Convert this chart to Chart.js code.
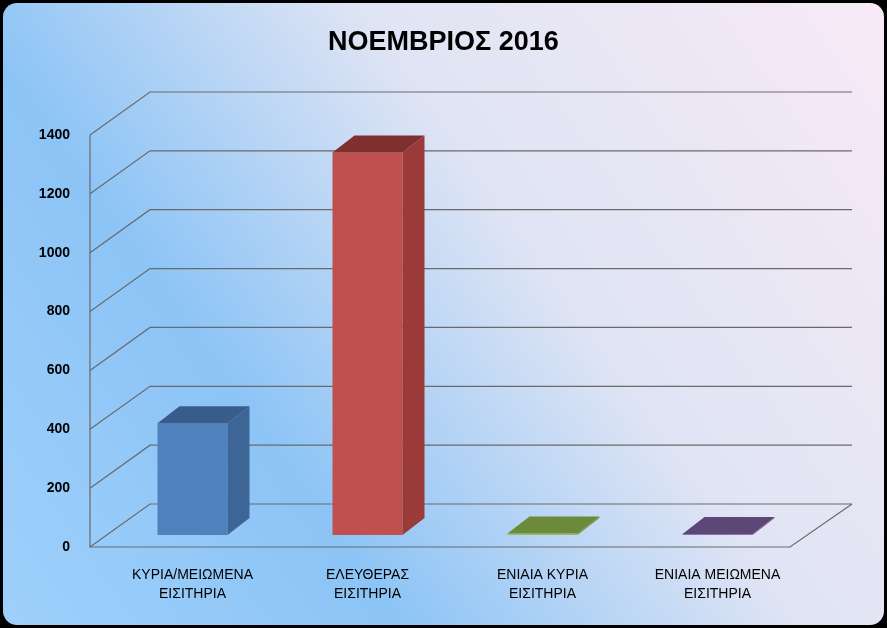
<!DOCTYPE html>
<html><head><meta charset="utf-8">
<script src="https://cdn.jsdelivr.net/npm/chart.js@4"></script>
<style>html,body{margin:0;background:#000;}#w{width:887px;height:628px;}</style>
</head><body><div id="w"><canvas id="c"></canvas></div>
<script>
const categories=[["ΚΥΡΙΑ/ΜΕΙΩΜΕΝΑ","ΕΙΣΙΤΗΡΙΑ"],["ΕΛΕΥΘΕΡΑΣ","ΕΙΣΙΤΗΡΙΑ"],["ΕΝΙΑΙΑ ΚΥΡΙΑ","ΕΙΣΙΤΗΡΙΑ"],["ΕΝΙΑΙΑ ΜΕΙΩΜΕΝΑ","ΕΙΣΙΤΗΡΙΑ"]];
const values=[380,1300,5,3];
const yTicks=[0,200,400,600,800,1000,1200,1400];
const titleText="ΝΟΕΜΒΡΙΟΣ 2016";
const colors=[["#4f81bd","#3d6596","#385d8a"],["#c0504d","#9b3b39","#7f302e"],["#9bbb59","#7d9a45","#6b8a3a"],["#8064a2","#654e82","#5c4776"]];
const DX=60,DY=-43,BX=22,BY=-17,LIFT=-12;
const p={id:'p3d',
beforeDraw(ch){const c=ch.ctx,W=ch.width,H=ch.height;c.save();
 c.fillStyle='#000';c.fillRect(0,0,W,H);
 const g=c.createLinearGradient(0,H,W,0);g.addColorStop(0,'#9fd0fb');g.addColorStop(0.3,'#8cc4f6');g.addColorStop(0.6,'#dfe4f4');g.addColorStop(1,'#f8eaf6');
 c.beginPath();c.roundRect(3,3,W-6,H-6,14);c.fillStyle=g;c.fill();
 const a=ch.chartArea,y=ch.scales.y,L=a.left-15,R=a.right-15;
 c.strokeStyle='#6a6a6a';c.lineWidth=1.2;
 yTicks.forEach(t=>{const yy=y.getPixelForValue(t);c.beginPath();c.moveTo(L,yy);c.lineTo(L+DX,yy+DY);c.lineTo(R+DX+2,yy+DY);c.stroke();});
 c.beginPath();c.moveTo(L,y.getPixelForValue(1400));c.lineTo(L,y.getPixelForValue(0));c.lineTo(R,y.getPixelForValue(0));c.lineTo(R+DX+2,y.getPixelForValue(0)+DY);c.stroke();
 c.fillStyle='#000';c.font='bold 14px "Liberation Sans",Arial';c.textAlign='right';c.textBaseline='middle';
 yTicks.forEach(t=>c.fillText(String(t),L-20,y.getPixelForValue(t)));
 c.font='bold 27px "Liberation Sans",Arial';c.textAlign='center';c.fillText(titleText,W/2,43);
 c.font='14px "Liberation Sans",Arial';c.textBaseline='top';
 const x=ch.scales.x;categories.forEach((l,i)=>{const xx=x.getPixelForValue(i);l.forEach((s,j)=>c.fillText(s,xx,568+j*19));});
 c.restore();},
afterDatasetsDraw(ch){const c=ch.ctx;c.save();
 ch.getDatasetMeta(0).data.forEach((b,i)=>{const h=b.width/2,x0=b.x-h,x1=b.x+h,yt=b.y+LIFT,yb=b.base+LIFT,[f,s,t]=colors[i];
  c.fillStyle=f;c.fillRect(x0,yt,x1-x0,yb-yt);
  c.fillStyle=s;c.beginPath();c.moveTo(x1,yt);c.lineTo(x1+BX,yt+BY);c.lineTo(x1+BX,yb+BY);c.lineTo(x1,yb);c.closePath();c.fill();
  c.fillStyle=t;c.beginPath();c.moveTo(x0,yt);c.lineTo(x0+BX,yt+BY);c.lineTo(x1+BX,yt+BY);c.lineTo(x1,yt);c.closePath();c.fill();});
 c.restore();}};
new Chart(document.getElementById('c'),{type:'bar',
 data:{labels:categories,datasets:[{data:values,backgroundColor:'rgba(0,0,0,0)',categoryPercentage:0.8,barPercentage:0.5}]},
 options:{responsive:true,maintainAspectRatio:false,animation:false,
  layout:{padding:{left:105,right:82,top:135,bottom:81}},
  plugins:{legend:{display:false},tooltip:{enabled:false}},
  scales:{x:{display:false},y:{display:false,min:0,max:1400}}},
 plugins:[p]});
</script></body></html>
